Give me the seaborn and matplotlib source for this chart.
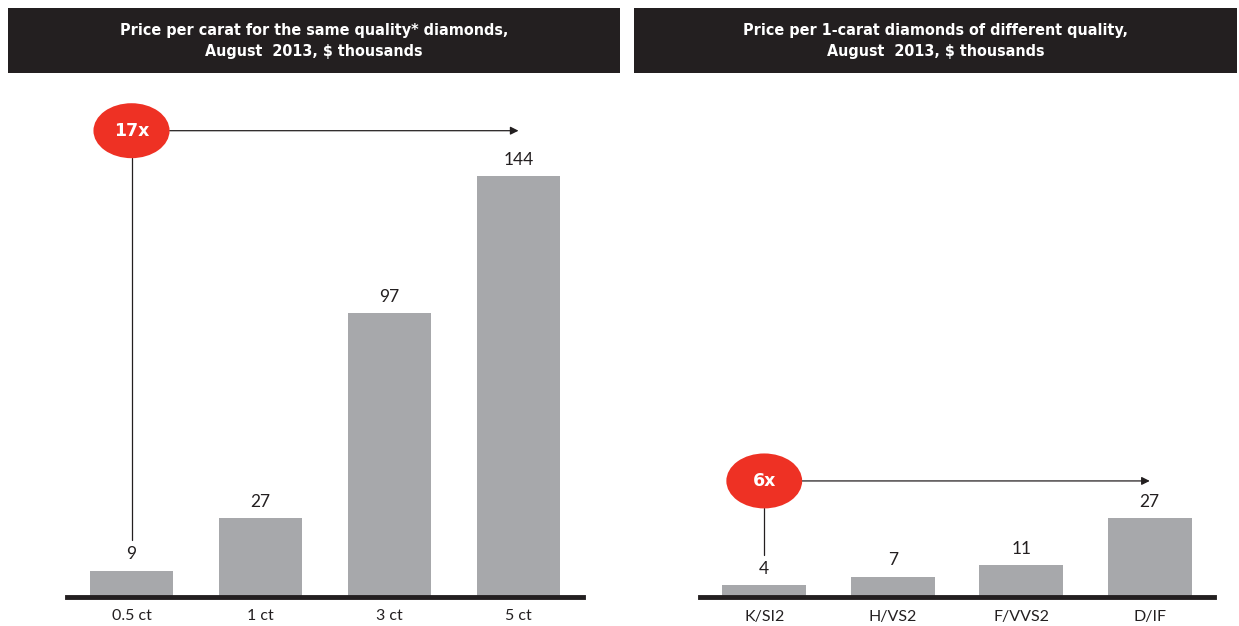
import matplotlib.pyplot as plt
import pandas as pd
import seaborn as sns
from matplotlib.patches import Ellipse, Rectangle

SIZE_LABELS = ["0.5 ct", "1 ct", "3 ct", "5 ct"]
SIZE_PRICES = [9, 27, 97, 144]
QUALITY_LABELS = ["K/SI2", "H/VS2", "F/VVS2", "D/IF"]
QUALITY_PRICES = [4, 7, 11, 27]

LEFT_TITLE = "Price per carat for the same quality* diamonds,\nAugust  2013, $ thousands"
RIGHT_TITLE = "Price per 1-carat diamonds of different quality,\nAugust  2013, $ thousands"
LEFT_MULT = "17x"
RIGHT_MULT = "6x"

BAR_GREY = "#A7A8AB"
RED = "#EE3124"
DARK = "#231F20"
YMAX = 170


def draw_panel(fig, ax, labels, values, mult, arrow_y, stem_bottom):
    df = pd.DataFrame({"label": labels, "value": values})
    sns.barplot(data=df, x="label", y="value", ax=ax, color=BAR_GREY,
                saturation=1, width=0.65, edgecolor="none")
    ax.set_ylim(0, YMAX)
    ax.set_xlim(-0.5, len(labels) - 0.5)
    ax.set_xlabel("")
    ax.set_ylabel("")
    ax.set_yticks([])
    for side in ["left", "right", "top"]:
        ax.spines[side].set_visible(False)
    ax.spines["bottom"].set_linewidth(3.5)
    ax.spines["bottom"].set_color(DARK)
    ax.tick_params(axis="x", length=0, pad=9, labelsize=11.5, labelcolor="#231F20")
    for lab in ax.get_xticklabels():
        lab.set_fontfamily("Lato")

    for i, v in enumerate(values):
        ax.annotate(str(v), (i, v), xytext=(0, 6), textcoords="offset points",
                    ha="center", va="bottom", fontsize=12.5, color="#231F20",
                    family="Lato")

    # red ellipse with multiplier, stem down to the first bar, arrow to the last
    ell_w, ell_h = 0.59, 18.8
    ax.plot([0, 0], [stem_bottom, arrow_y - ell_h / 2], color=DARK, lw=0.9,
            clip_on=False)
    ax.add_patch(Ellipse((0, arrow_y), ell_w, ell_h, facecolor=RED,
                         edgecolor="none", clip_on=False, zorder=5))
    ax.text(0, arrow_y, mult, ha="center", va="center", color="white",
            fontsize=12.5, fontweight="bold", family="DejaVu Sans", zorder=6)
    ax.annotate("", xy=(len(labels) - 1, arrow_y),
                xytext=(ell_w / 2, arrow_y),
                arrowprops=dict(arrowstyle="-|>", color=DARK, lw=0.9,
                                mutation_scale=12, shrinkA=0, shrinkB=0),
                annotation_clip=False)


sns.set_style("white")
fig = plt.figure(figsize=(12.39, 6.26), dpi=100)

W, H = 1239, 626
ax1 = fig.add_axes([67 / W, 29 / H, 516 / W, 497 / H])
ax2 = fig.add_axes([700 / W, 29 / H, 514 / W, 497 / H])

draw_panel(fig, ax1, SIZE_LABELS, SIZE_PRICES, LEFT_MULT, 159.5, 19.5)
draw_panel(fig, ax2, QUALITY_LABELS, QUALITY_PRICES, RIGHT_MULT, 39.7, 14.5)

# dark header boxes
for (x0, x1), title in [((8, 620), LEFT_TITLE), ((634, 1237), RIGHT_TITLE)]:
    fig.patches.append(Rectangle((x0 / W, 1 - 73 / H), (x1 - x0) / W, 65 / H,
                                 transform=fig.transFigure, facecolor=DARK,
                                 edgecolor="none"))
    fig.text((x0 + x1) / 2 / W, 1 - 41 / H, title, ha="center", va="center",
             color="white", fontsize=11.5, fontweight="bold",
             family="DejaVu Sans", fontstretch="condensed", linespacing=1.55)

fig.savefig("out.png", dpi=100)
